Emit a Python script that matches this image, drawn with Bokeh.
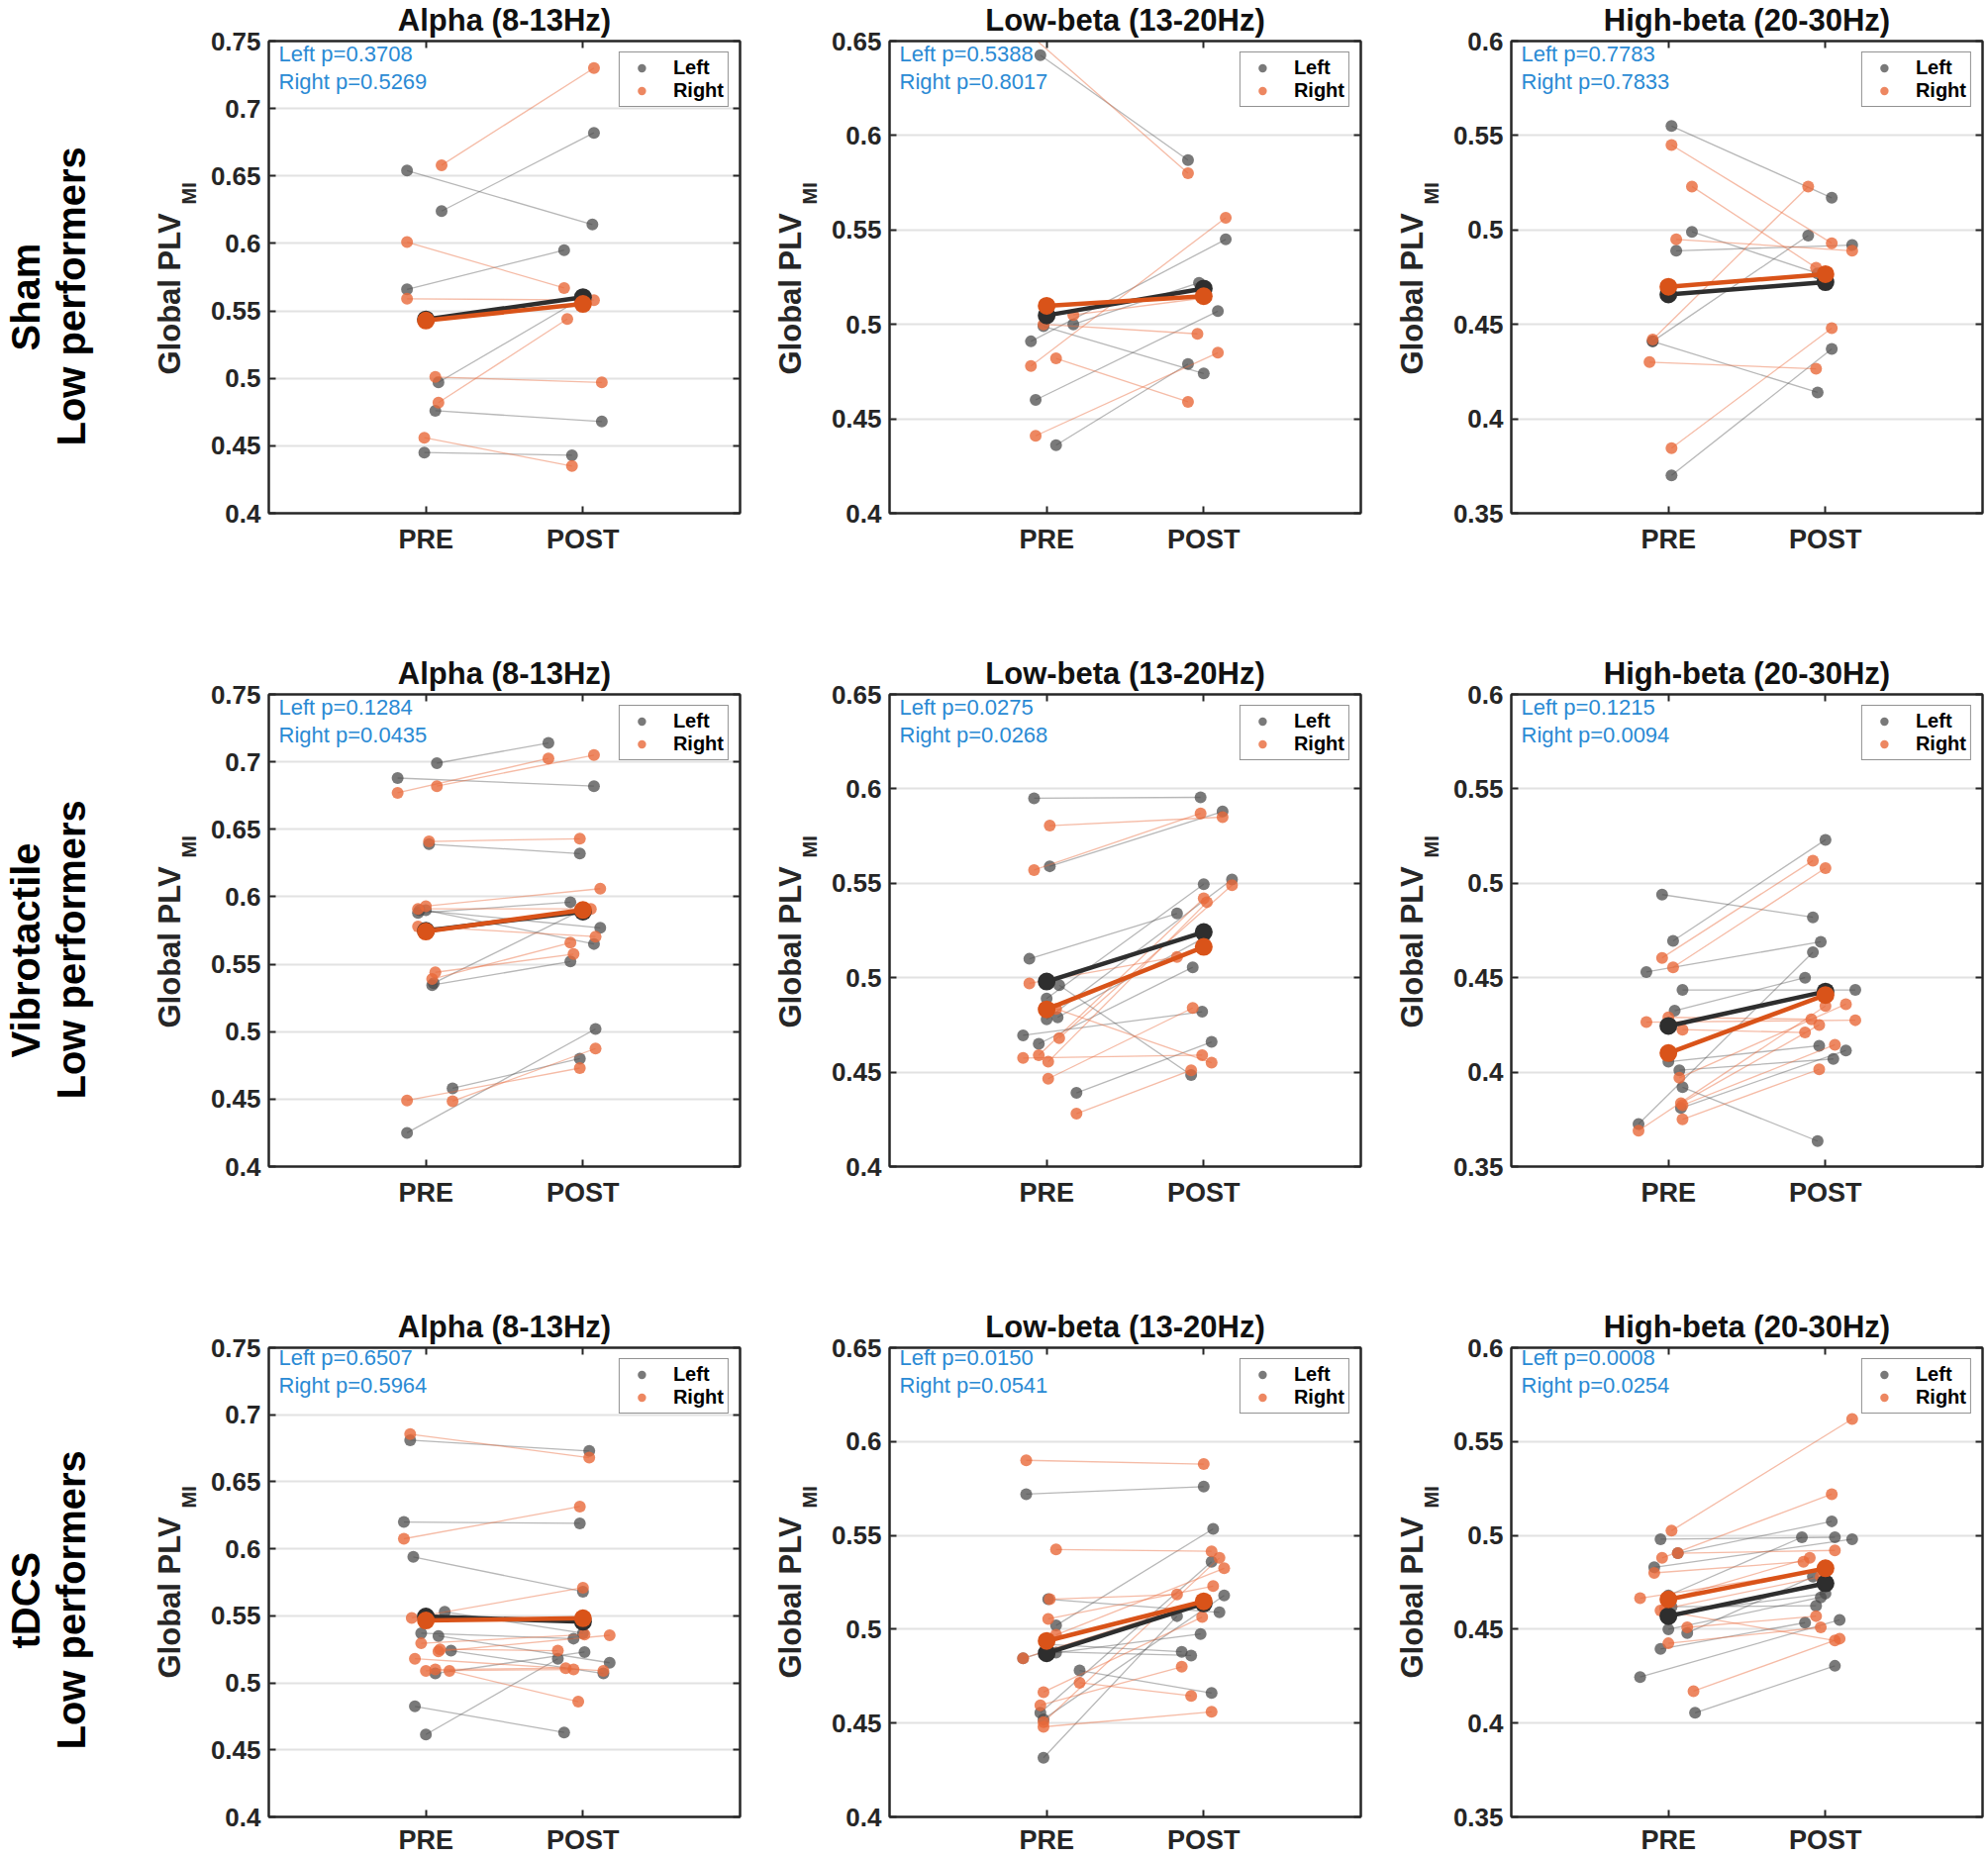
import numpy as np
from bokeh.plotting import figure
from bokeh.layouts import row, column
from bokeh.models import (Range1d, FixedTicker, LinearAxis, Label, Title,
                          CustomJSTickFormatter, Legend, LegendItem)
from bokeh.embed import file_html
from bokeh.resources import INLINE

# ---------------- labels ----------------
groups = ["Sham", "Vibrotactile", "tDCS"]
group_sub = "Low performers"
group_keys = ["sham", "vibro", "tdcs"]
bands = ["Alpha (8-13Hz)", "Low-beta (13-20Hz)", "High-beta (20-30Hz)"]
band_keys = ["alpha", "lowbeta", "highbeta"]
conditions = ["PRE", "POST"]
series_names = ["Left", "Right"]
ylabel_main = "Global PLV"
ylabel_sub = "MI"

alpha_ticks = [0.4, 0.45, 0.5, 0.55, 0.6, 0.65, 0.7, 0.75]
lowbeta_ticks = [0.4, 0.45, 0.5, 0.55, 0.6, 0.65]
highbeta_ticks = [0.35, 0.4, 0.45, 0.5, 0.55, 0.6]
band_ticks = [alpha_ticks, lowbeta_ticks, highbeta_ticks]

sham_p_left = ["0.3708", "0.5388", "0.7783"]
sham_p_right = ["0.5269", "0.8017", "0.7833"]
vibro_p_left = ["0.1284", "0.0275", "0.1215"]
vibro_p_right = ["0.0435", "0.0268", "0.0094"]
tdcs_p_left = ["0.6507", "0.0150", "0.0008"]
tdcs_p_right = ["0.5964", "0.0541", "0.0254"]

# ---------------- data (values + horizontal jitter) ----------------
# Sham
sham_alpha_left_pre = [0.654, 0.624, 0.566, 0.497, 0.476, 0.445]
sham_alpha_left_pre_dx = [-0.12, 0.10, -0.12, 0.08, 0.06, -0.01]
sham_alpha_left_post = [0.614, 0.682, 0.595, 0.559, 0.468, 0.443]
sham_alpha_left_post_dx = [0.06, 0.07, -0.12, -0.01, 0.12, -0.07]
sham_alpha_right_pre = [0.658, 0.601, 0.559, 0.501, 0.482, 0.456]
sham_alpha_right_pre_dx = [0.10, -0.12, -0.12, 0.06, 0.08, -0.01]
sham_alpha_right_post = [0.730, 0.567, 0.558, 0.497, 0.544, 0.435]
sham_alpha_right_post_dx = [0.07, -0.12, 0.07, 0.12, -0.10, -0.07]

sham_lowbeta_left_pre = [0.6425, 0.491, 0.499, 0.460, 0.436, 0.500]
sham_lowbeta_left_pre_dx = [-0.04, -0.10, -0.02, -0.07, 0.06, 0.17]
sham_lowbeta_left_post = [0.587, 0.545, 0.474, 0.507, 0.479, 0.522]
sham_lowbeta_left_post_dx = [-0.10, 0.14, 0.00, 0.09, -0.10, -0.03]
sham_lowbeta_right_pre = [0.653, 0.478, 0.482, 0.441, 0.500, 0.505]
sham_lowbeta_right_pre_dx = [-0.10, -0.10, 0.06, -0.07, -0.02, 0.17]
sham_lowbeta_right_post = [0.580, 0.5565, 0.459, 0.485, 0.495, 0.514]
sham_lowbeta_right_post_dx = [-0.10, 0.14, -0.10, 0.09, -0.04, 0.00]

sham_highbeta_left_pre = [0.555, 0.499, 0.489, 0.441, 0.441, 0.370]
sham_highbeta_left_pre_dx = [0.02, 0.15, 0.05, -0.10, -0.10, 0.02]
sham_highbeta_left_post = [0.517, 0.477, 0.492, 0.497, 0.414, 0.437]
sham_highbeta_left_post_dx = [0.04, -0.05, 0.17, -0.11, -0.05, 0.04]
sham_highbeta_right_pre = [0.545, 0.523, 0.495, 0.442, 0.430, 0.3845]
sham_highbeta_right_pre_dx = [0.02, 0.15, 0.05, -0.10, -0.12, 0.02]
sham_highbeta_right_post = [0.493, 0.480, 0.489, 0.523, 0.4265, 0.448]
sham_highbeta_right_post_dx = [0.04, -0.06, 0.17, -0.11, -0.06, 0.04]

# Vibrotactile
vibro_alpha_left_pre = [0.699, 0.688, 0.639, 0.588, 0.590, 0.590, 0.5345, 0.536, 0.458, 0.425]
vibro_alpha_left_pre_dx = [0.07, -0.18, 0.02, -0.05, 0.00, -0.04, 0.04, 0.05, 0.17, -0.12]
vibro_alpha_left_post = [0.714, 0.682, 0.632, 0.596, 0.565, 0.577, 0.552, 0.590, 0.480, 0.502]
vibro_alpha_left_post_dx = [-0.22, 0.07, -0.02, -0.08, 0.07, 0.11, -0.08, -0.01, -0.02, 0.08]
vibro_alpha_right_pre = [0.677, 0.682, 0.641, 0.593, 0.591, 0.578, 0.544, 0.539, 0.449, 0.4485]
vibro_alpha_right_pre_dx = [-0.18, 0.07, 0.02, 0.00, -0.05, -0.05, 0.06, 0.04, -0.12, 0.17]
vibro_alpha_right_post = [0.7025, 0.705, 0.643, 0.606, 0.591, 0.5705, 0.5575, 0.566, 0.473, 0.4875]
vibro_alpha_right_post_dx = [-0.22, 0.07, -0.02, 0.11, 0.05, 0.08, -0.06, -0.08, -0.02, 0.08]

vibro_lowbeta_left_pre = [0.595, 0.559, 0.510, 0.496, 0.489, 0.478, 0.479, 0.4695, 0.465, 0.439]
vibro_lowbeta_left_pre_dx = [-0.08, 0.02, -0.11, 0.08, 0.00, 0.00, 0.07, -0.15, -0.05, 0.19]
vibro_lowbeta_left_post = [0.5955, 0.588, 0.534, 0.4485, 0.5495, 0.552, 0.521, 0.482, 0.5055, 0.466]
vibro_lowbeta_left_post_dx = [-0.02, 0.12, -0.17, -0.08, 0.00, 0.18, 0.00, -0.01, -0.07, 0.05]
vibro_lowbeta_right_pre = [0.5805, 0.557, 0.497, 0.468, 0.4575, 0.459, 0.4555, 0.4465, 0.428, 0.4835]
vibro_lowbeta_right_pre_dx = [0.02, -0.08, -0.11, 0.08, -0.15, -0.05, 0.01, 0.01, 0.19, 0.06]
vibro_lowbeta_right_post = [0.585, 0.587, 0.511, 0.549, 0.459, 0.542, 0.540, 0.484, 0.451, 0.455]
vibro_lowbeta_right_post_dx = [0.12, -0.02, -0.17, 0.18, -0.01, 0.00, 0.02, -0.07, -0.08, 0.05]

vibro_highbeta_left_pre = [0.494, 0.4695, 0.453, 0.4435, 0.4325, 0.4055, 0.401, 0.392, 0.381, 0.3725]
vibro_highbeta_left_pre_dx = [-0.04, 0.03, -0.14, 0.09, 0.04, 0.00, 0.07, 0.09, 0.08, -0.19]
vibro_highbeta_left_post = [0.482, 0.523, 0.469, 0.4435, 0.450, 0.414, 0.407, 0.3635, 0.4115, 0.4635]
vibro_highbeta_left_post_dx = [-0.08, 0.00, -0.03, 0.19, -0.13, -0.04, 0.05, -0.05, 0.13, -0.08]
vibro_highbeta_right_pre = [0.4605, 0.4555, 0.4265, 0.429, 0.4225, 0.397, 0.3835, 0.3825, 0.375, 0.369]
vibro_highbeta_right_pre_dx = [-0.04, 0.03, -0.14, 0.00, 0.09, 0.07, 0.08, 0.09, 0.09, -0.19]
vibro_highbeta_right_post = [0.512, 0.508, 0.4275, 0.428, 0.421, 0.436, 0.425, 0.4145, 0.4015, 0.435]
vibro_highbeta_right_post_dx = [-0.08, 0.00, 0.19, -0.09, -0.13, 0.13, -0.04, 0.06, -0.04, 0.00]

# tDCS
tdcs_alpha_left_pre = [0.681, 0.620, 0.594, 0.553, 0.537, 0.535, 0.524, 0.507, 0.4825, 0.4615]
tdcs_alpha_left_pre_dx = [-0.10, -0.14, -0.08, 0.12, -0.03, 0.08, 0.16, 0.06, -0.07, 0.00]
tdcs_alpha_left_post = [0.673, 0.619, 0.568, 0.537, 0.533, 0.515, 0.507, 0.523, 0.463, 0.518]
tdcs_alpha_left_post_dx = [0.04, -0.02, 0.00, 0.00, -0.06, 0.17, 0.13, 0.01, -0.12, -0.16]
tdcs_alpha_right_pre = [0.6855, 0.6075, 0.5485, 0.5295, 0.5235, 0.518, 0.509, 0.510, 0.509, 0.525]
tdcs_alpha_right_pre_dx = [-0.10, -0.14, -0.09, -0.03, 0.08, -0.07, 0.00, 0.06, 0.15, 0.09]
tdcs_alpha_right_post = [0.668, 0.6315, 0.571, 0.536, 0.5355, 0.509, 0.510, 0.511, 0.486, 0.524]
tdcs_alpha_right_post_dx = [0.04, -0.02, 0.00, 0.01, 0.17, 0.13, -0.06, -0.11, -0.03, -0.16]

tdcs_lowbeta_left_pre = [0.572, 0.516, 0.502, 0.4875, 0.4845, 0.478, 0.4555, 0.452, 0.4315, 0.492, 0.488]
tdcs_lowbeta_left_pre_dx = [-0.13, 0.01, 0.06, 0.06, -0.15, 0.21, -0.04, -0.02, -0.02, 0.00, 0.01]
tdcs_lowbeta_left_post = [0.576, 0.509, 0.5535, 0.4975, 0.514, 0.466, 0.536, 0.518, 0.507, 0.488, 0.486]
tdcs_lowbeta_left_post_dx = [0.00, 0.10, 0.06, -0.02, 0.00, 0.05, 0.05, 0.13, -0.17, -0.14, -0.08]
tdcs_lowbeta_right_pre = [0.590, 0.5425, 0.516, 0.5055, 0.497, 0.4845, 0.4715, 0.4665, 0.4595, 0.4505, 0.448]
tdcs_lowbeta_right_pre_dx = [-0.13, 0.06, 0.02, 0.01, 0.06, -0.15, 0.21, -0.02, -0.04, -0.02, -0.02]
tdcs_lowbeta_right_post = [0.588, 0.5415, 0.5185, 0.523, 0.5325, 0.515, 0.4645, 0.5065, 0.480, 0.538, 0.456]
tdcs_lowbeta_right_post_dx = [0.00, 0.05, -0.17, 0.06, 0.13, 0.00, -0.08, -0.01, -0.14, 0.10, 0.05]

tdcs_highbeta_left_pre = [0.498, 0.4905, 0.483, 0.450, 0.448, 0.4395, 0.4245, 0.4055, 0.468, 0.462, 0.458]
tdcs_highbeta_left_pre_dx = [-0.05, 0.06, -0.09, 0.00, 0.12, -0.05, -0.18, 0.17, 0.00, 0.02, -0.02]
tdcs_highbeta_left_post = [0.499, 0.5075, 0.498, 0.467, 0.478, 0.4535, 0.455, 0.4305, 0.499, 0.4625, 0.469]
tdcs_highbeta_left_post_dx = [0.06, 0.04, 0.17, -0.03, -0.08, -0.13, 0.09, 0.06, -0.15, -0.06, 0.00]
tdcs_highbeta_right_pre = [0.5025, 0.488, 0.4905, 0.480, 0.4665, 0.460, 0.451, 0.4425, 0.417, 0.466, 0.461]
tdcs_highbeta_right_pre_dx = [0.02, -0.04, 0.06, -0.09, -0.18, -0.05, 0.12, 0.00, 0.16, 0.00, -0.02]
tdcs_highbeta_right_post = [0.562, 0.522, 0.492, 0.486, 0.482, 0.444, 0.457, 0.451, 0.445, 0.488, 0.478]
tdcs_highbeta_right_post_dx = [0.17, 0.04, 0.06, -0.14, 0.00, 0.06, -0.06, -0.03, 0.09, -0.10, -0.03]

# ---------------- style ----------------
FONT = "Liberation Sans"
AX = "#262626"
GRAY = "#4a4a4a"
ORANGE = "#e8693a"
MEAN_L = "#2e2e2e"
MEAN_R = "#d95319"
PBLUE = "#2a8ad4"
GRID = "#e2e2e2"

FW, FH = 478, 477
TOP = 41
BOTS = [142, 142, 38]
XLAB_STANDOFF = [11, 11, 8]
ROWLAB_W = 147
YLAB_W = 62
PANEL_L = 60
PANEL_R = [27, 28, 4]
ROWLAB_FS = 40
# approximate rendered lengths (px) of the row-label words at ROWLAB_FS
ROWLAB_LEN = {"Sham": 109, "Vibrotactile": 218, "tDCS": 98, "Low performers": 302}

G = globals()


def style_axis(ax, size="26px"):
    ax.axis_line_color = AX
    ax.axis_line_width = 2
    ax.major_tick_in = 7
    ax.major_tick_out = 0
    ax.major_tick_line_color = AX
    ax.major_tick_line_width = 2
    ax.minor_tick_line_color = None
    ax.major_label_text_font = FONT
    ax.major_label_text_font_style = "bold"
    ax.major_label_text_font_size = size
    ax.major_label_text_color = AX


def blank_fig(w, h, top, bottom, left):
    p = figure(width=w, height=h, x_range=Range1d(0, 1), y_range=Range1d(0, 1),
               output_backend="svg", toolbar_location=None, tools="",
               min_border_left=left, min_border_right=0,
               min_border_top=top, min_border_bottom=bottom,
               x_axis_location=None, y_axis_location=None)
    p.outline_line_color = None
    p.grid.visible = False
    return p


def make_panel(gi, bi):
    gk, bk = group_keys[gi], band_keys[bi]
    get = lambda k: G[f"{gk}_{bk}_{k}"]
    ticks = band_ticks[bi]
    L = PANEL_L
    R = PANEL_R[bi]
    B = BOTS[gi]
    p = figure(width=L + FW + R, height=TOP + FH + B,
               x_range=Range1d(0, 3), y_range=Range1d(ticks[0], ticks[-1]),
               output_backend="svg", toolbar_location=None, tools="",
               min_border_left=L, min_border_right=R,
               min_border_top=TOP, min_border_bottom=B)
    p.outline_line_color = AX
    p.outline_line_width = 2
    p.background_fill_color = "white"
    p.border_fill_color = "white"

    # title
    p.title.text = bands[bi]
    p.title.align = "center"
    p.title.vertical_align = "top"
    p.title.text_font = FONT
    p.title.text_font_style = "bold"
    p.title.text_font_size = "31px"
    p.title.text_color = "#111111"
    p.title.standoff = 4

    # axes
    p.xaxis.ticker = FixedTicker(ticks=[1, 2])
    p.xaxis.major_label_overrides = {1: conditions[0], 2: conditions[1]}
    style_axis(p.xaxis[0], "27px")
    p.xaxis.major_label_standoff = XLAB_STANDOFF[gi]
    p.yaxis.ticker = FixedTicker(ticks=ticks)
    p.yaxis.formatter = CustomJSTickFormatter(code="return (Math.round(tick*1000)/1000).toString();")
    style_axis(p.yaxis[0], "26px")
    p.yaxis.major_label_standoff = 8

    right = LinearAxis(ticker=FixedTicker(ticks=ticks),
                       formatter=CustomJSTickFormatter(code="return '';"))
    style_axis(right, "1px")
    right.major_label_standoff = 0
    p.add_layout(right, "right")
    top = LinearAxis(ticker=FixedTicker(ticks=[1, 2]),
                     formatter=CustomJSTickFormatter(code="return '';"))
    style_axis(top, "1px")
    top.major_label_standoff = 0
    p.add_layout(top, "above")

    p.xgrid.visible = False
    p.ygrid.ticker = FixedTicker(ticks=ticks)
    p.ygrid.grid_line_color = GRID
    p.ygrid.grid_line_width = 2

    # individual subjects
    def side(key, color, lalpha, palpha):
        pre, pre_dx = get(f"{key}_pre"), get(f"{key}_pre_dx")
        post, post_dx = get(f"{key}_post"), get(f"{key}_post_dx")
        xs = [[1 + a, 2 + b] for a, b in zip(pre_dx, post_dx)]
        ys = [[u, v] for u, v in zip(pre, post)]
        p.multi_line(xs, ys, line_color=color, line_alpha=lalpha, line_width=1.3)
        xx = np.concatenate([1 + np.array(pre_dx), 2 + np.array(post_dx)])
        yy = np.concatenate([pre, post])
        r = p.scatter(xx, yy, size=12, fill_color=color, fill_alpha=palpha, line_color=None)
        return r, (np.mean(pre), np.mean(post))

    rl, ml = side("left", GRAY, 0.40, 0.74)
    rr, mr = side("right", ORANGE, 0.45, 0.80)

    # group means
    p.line([1, 2], list(ml), line_color=MEAN_L, line_width=4.5)
    p.scatter([1, 2], list(ml), size=18, fill_color=MEAN_L, line_color=None)
    p.line([1, 2], list(mr), line_color=MEAN_R, line_width=4.5)
    p.scatter([1, 2], list(mr), size=18, fill_color=MEAN_R, line_color=None)

    # legend
    leg = Legend(items=[LegendItem(label=series_names[0], renderers=[rl]),
                        LegendItem(label=series_names[1], renderers=[rr])],
                 location="top_right", margin=11, padding=4, spacing=0,
                 label_height=21, glyph_height=21, glyph_width=36, label_standoff=14,
                 border_line_color=AX, border_line_width=1.5,
                 background_fill_color="white", background_fill_alpha=1.0,
                 label_text_font=FONT, label_text_font_style="bold",
                 label_text_font_size="20px", label_text_color="black")
    p.add_layout(leg)

    # p-values
    pl = G[f"{gk}_p_left"][bi]
    pr = G[f"{gk}_p_right"][bi]
    for txt, yy in ((f"Left p={pl}", FH - 13), (f"Right p={pr}", FH - 41)):
        p.add_layout(Label(x=10, y=yy, x_units="screen", y_units="screen", text=txt,
                           text_font=FONT, text_font_size="22px", text_color=PBLUE,
                           text_baseline="middle", text_align="left"))
    return p


def make_ylab(gi):
    B = BOTS[gi]
    H = TOP + FH + B
    p = blank_fig(YLAB_W, H, TOP, B, 46)
    # subscript next to the tick labels (overlapping the main label's band),
    # main text further out
    p.add_layout(Title(text=ylabel_sub, align="left", vertical_align="top",
                       offset=FH - 165, standoff=-20, text_font=FONT,
                       text_font_style="bold", text_font_size="20px",
                       text_color=AX), "left")
    p.add_layout(Title(text=ylabel_main, align="left", vertical_align="middle",
                       offset=FH - 337, standoff=0, text_font=FONT,
                       text_font_style="bold", text_font_size="31px",
                       text_color=AX), "left")
    return p


def make_rowlab(gi):
    B = BOTS[gi]
    H = TOP + FH + B
    p = blank_fig(ROWLAB_W, H, TOP, B, 94)
    center = FH / 2 - 20  # from frame bottom
    for txt in (group_sub, groups[gi]):   # inner line first, outer line second
        p.add_layout(Title(text=txt, align="left", vertical_align="middle",
                           offset=int(round(center - ROWLAB_LEN[txt] / 2)), standoff=0,
                           text_font=FONT, text_font_style="bold",
                           text_font_size=f"{ROWLAB_FS}px", text_color="black"), "left")
    return p


rows = []
for gi in range(3):
    items = [make_rowlab(gi)]
    for bi in range(3):
        items.append(make_ylab(gi))
        items.append(make_panel(gi, bi))
    rows.append(row(*items))

layout = column(*rows)
open("out.html", "w").write(file_html(layout, INLINE, "Global PLV"))
